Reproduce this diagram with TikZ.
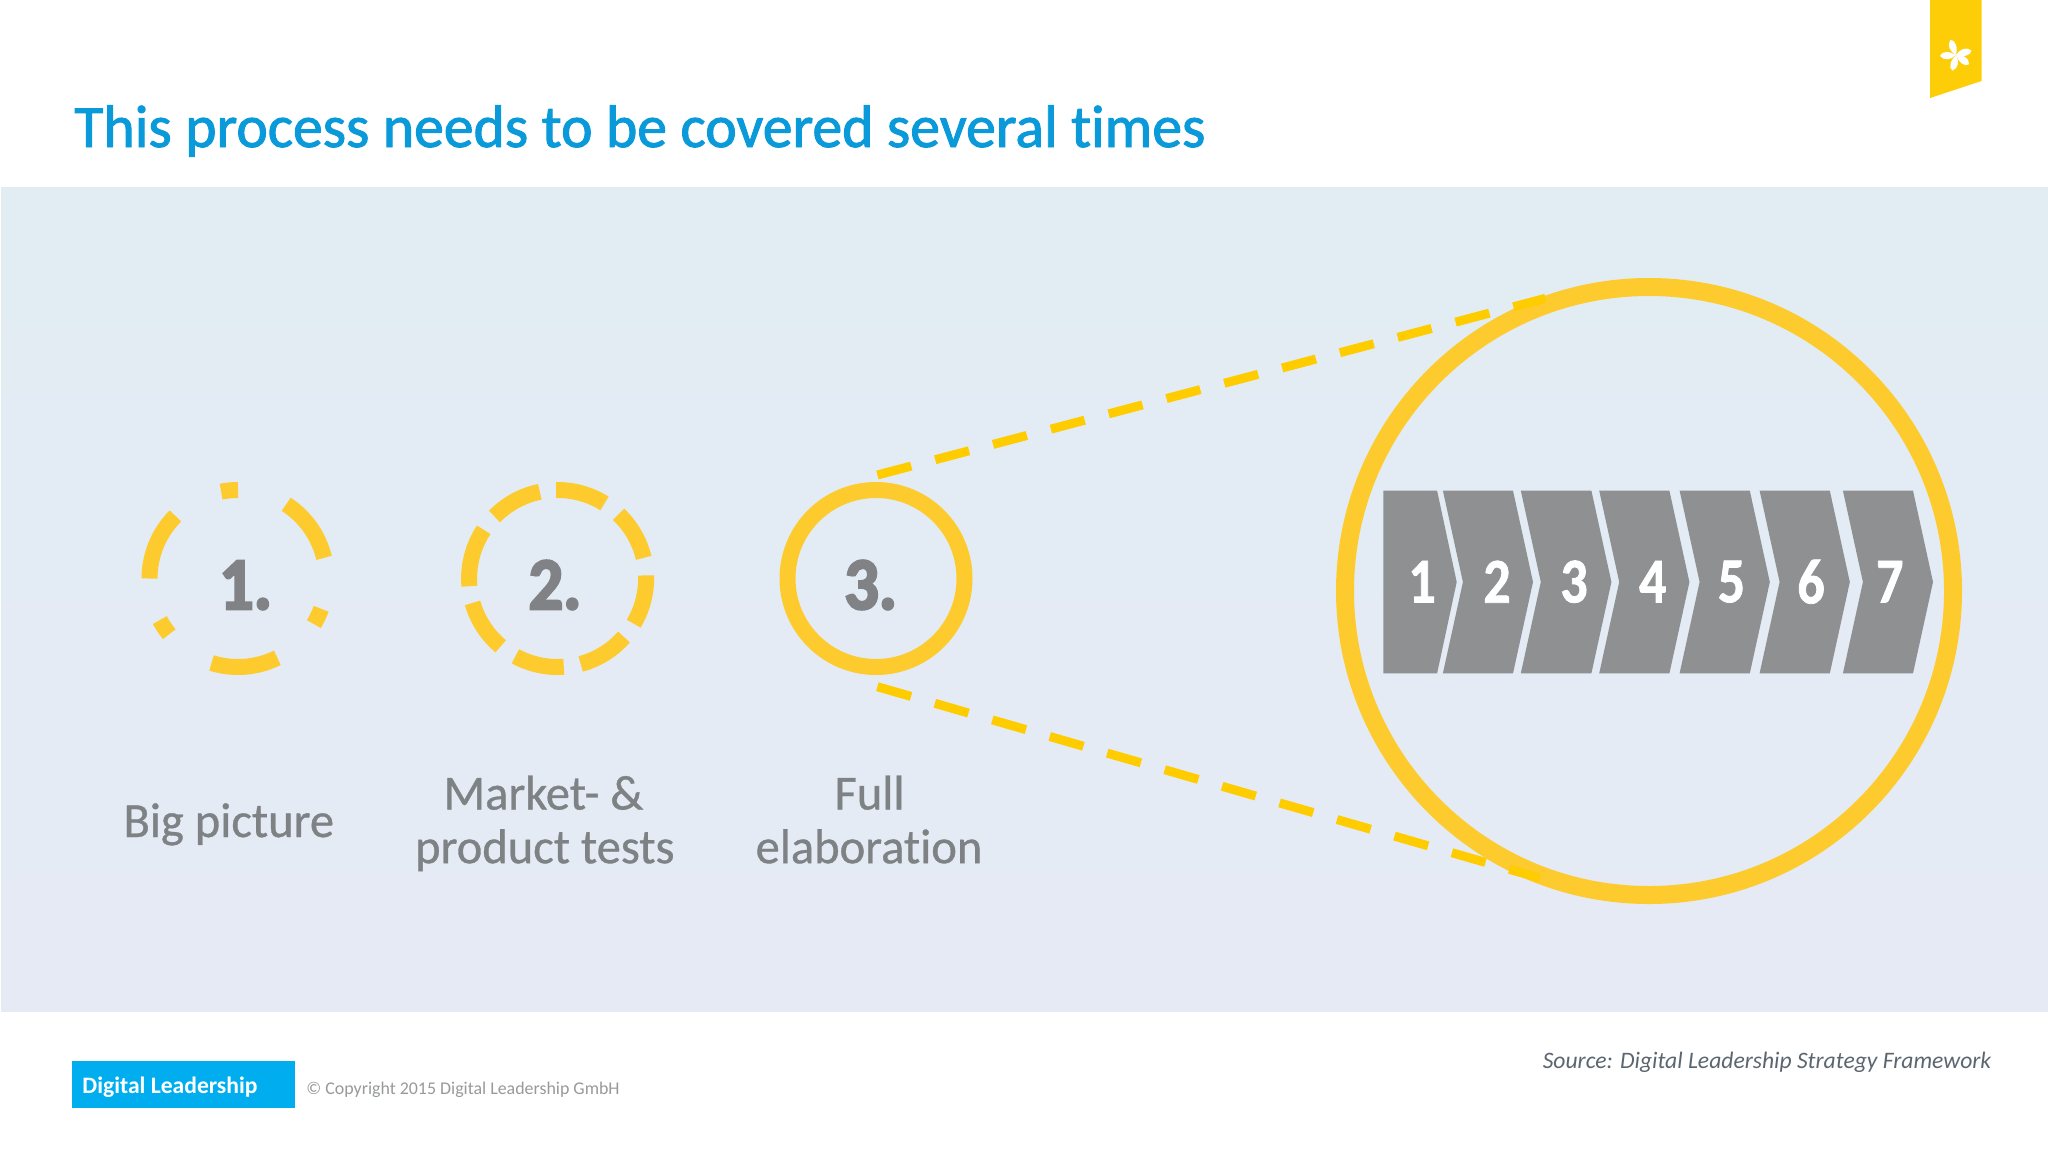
\documentclass[tikz,border=0pt]{standalone}
\usepackage{fontspec}
\setmainfont{Carlito}[RawFeature=-liga]
\newfontfamily\semifont{Carlito}[RawFeature=-liga,FakeBold=1.6,FakeStretch=0.994]
\newfontfamily\medfont{Carlito}[RawFeature=-liga,FakeBold=0.7,FakeStretch=0.99]
\newfontfamily\heavyfont{Carlito}[BoldFeatures={FakeBold=3.4,FakeStretch=0.92}]
\newfontfamily\digitfont{Carlito}[BoldFeatures={FakeBold=1.2,FakeStretch=0.84}]
\definecolor{ring}{HTML}{FECB2F}
\definecolor{dashy}{HTML}{FFCC00}
\definecolor{panelA}{HTML}{E2EDF3}
\definecolor{panelB}{HTML}{E5EAF5}
\definecolor{chev}{HTML}{8E9091}
\definecolor{titleblue}{HTML}{0A9ADA}
\definecolor{labelgray}{HTML}{7F8285}
\definecolor{numgray}{HTML}{808285}
\definecolor{logoblue}{HTML}{00AEEF}
\definecolor{copygray}{HTML}{97999B}
\definecolor{srcgray}{HTML}{5C6670}
\definecolor{tag}{HTML}{FDCE07}
\tikzset{
  ringarc/.style={draw=ring,line width=8pt,line cap=butt},
  ringfull/.style={circle,draw=ring,inner sep=0pt,fill=none},
  zoomline/.style={draw=dashy,line width=4.5pt,dash pattern=on 17.5pt off 12.4pt},
  chevshape/.style={fill=chev,draw=none},
  chevnum/.style={text=white,font=\fontsize{32}{32}\digitfont\bfseries,anchor=center,inner sep=0pt},
  bignum/.style={text=numgray,font=\fontsize{37}{37}\heavyfont\bfseries,anchor=base,inner sep=0pt},
  steplabel/.style={text=labelgray,font=\fontsize{24.5}{24.5}\medfont,anchor=base,inner sep=0pt},
}
\newcommand{\chevron}[4]{%
  \fill[chevshape] (#1,490.7) -- (#2,490.7) -- (#2+20,582) -- (#2,673.3) -- (#1,673.3) -- (#1+20,582) -- cycle;
  \node[chevnum] (n#4) at (#3,581.7) {#4};
}
\begin{document}
\begin{tikzpicture}[x=0.5pt,y=-0.5pt]
\useasboundingbox (0,0) rectangle (2048,1152);
\fill[white] (0,0) rectangle (2048,1152);
\shade[top color=panelA,bottom color=panelB,shading angle=0] (1,187) rectangle (2048,1011);
% bookmark
\fill[tag] (1930,0) -- (1981.5,0) -- (1981.5,81) -- (1930,98) -- cycle;
\foreach \a in {106,39,-13,-107,180}{
  \fill[white,shift={(1956,55)},rotate=-\a] (0,0) .. controls (5,-5) and (12,-6) .. (16,-1) .. controls (15,4) and (6,4) .. (0,0) -- cycle;
}
% title
\node[anchor=base west,inner sep=0pt,text=titleblue,font=\fontsize{30}{30}\semifont] (title) at (74,147) {This process needs to be covered several times};
% rings
\foreach \a/\b in {90/101,57/13.5,-20/-31,-63.6/-107.4,208/219,135/180}{
  \draw[ringarc] (238,578.5) ++(-\a:88.5) arc[start angle=-\a,end angle=-\b,radius=88.5];
}
\foreach \a/\b in {91/58,46.5/13.5,2/-30.7,-41.4/-74.9,-86/-118.5,230/196,185/146.6,135.5/101.6}{
  \draw[ringarc] (557.6,578.5) ++(-\a:88.5) arc[start angle=-\a,end angle=-\b,radius=88.5];
}
\node[ringfull,line width=8pt,minimum size=88.5pt] (ringc) at (876,578.5) {};
\node[ringfull,line width=9pt,minimum size=304pt] (ringbig) at (1649,591) {};
\node[bignum] (one) at (245.6,609) {1.};
\node[bignum] (two) at (555,609) {2.};
\node[bignum] (three) at (870.6,609) {3.};
% zoom lines
\coordinate (ta) at (877.4,475);
\coordinate (tb) at (1545.5,298.3);
\coordinate (ba) at (877.4,686.7);
\coordinate (bb) at (1539.5,878);
\draw[zoomline] (ta) -- (tb);
\draw[zoomline] (ba) -- (bb);
% chevrons
\fill[chevshape] (1383.3,490.7) -- (1437.1,490.7) -- (1456.7,582) -- (1437.1,673.3) -- (1383.3,673.3) -- cycle;
\node[chevnum] (n1) at (1422,581.7) {1};
\chevron{1442.9}{1513}{1497}{2}
\chevron{1520.8}{1591.4}{1574}{3}
\chevron{1599.2}{1669.4}{1652.7}{4}
\chevron{1679.6}{1749.8}{1731.4}{5}
\chevron{1759.6}{1829.8}{1811}{6}
\chevron{1842.9}{1913}{1889.8}{7}
% labels
\node[steplabel] (l1) at (228.8,837) {Big picture};
\node[steplabel] (l2a) at (543.5,809.5) {Market- \&};
\node[steplabel] (l2b) at (544.8,863.2) {product tests};
\node[steplabel] (l3a) at (869.6,809.5) {Full};
\node[steplabel] (l3b) at (869,863.2) {elaboration};
% footer
\node[fill=logoblue,anchor=north west,minimum width=111.6pt,minimum height=23.3pt,inner sep=0pt] (logo) at (71.8,1061) {};
\node[anchor=base west,inner sep=0pt,text=white,font=\fontsize{11.8}{11.8}\selectfont\bfseries] (logotext) at (82,1093) {Digital Leadership};
\node[anchor=base west,inner sep=0pt,text=copygray,font=\fontsize{8.95}{8.95}\selectfont] (copy) at (306,1094) {© Copyright 2015 Digital Leadership GmbH};
\node[anchor=base east,inner sep=0pt,text=srcgray,font=\fontsize{11.8}{11.8}\selectfont\itshape] (src) at (1991.6,1068.5) {Source: Digital Leadership Strategy Framework};
\end{tikzpicture}
\end{document}
